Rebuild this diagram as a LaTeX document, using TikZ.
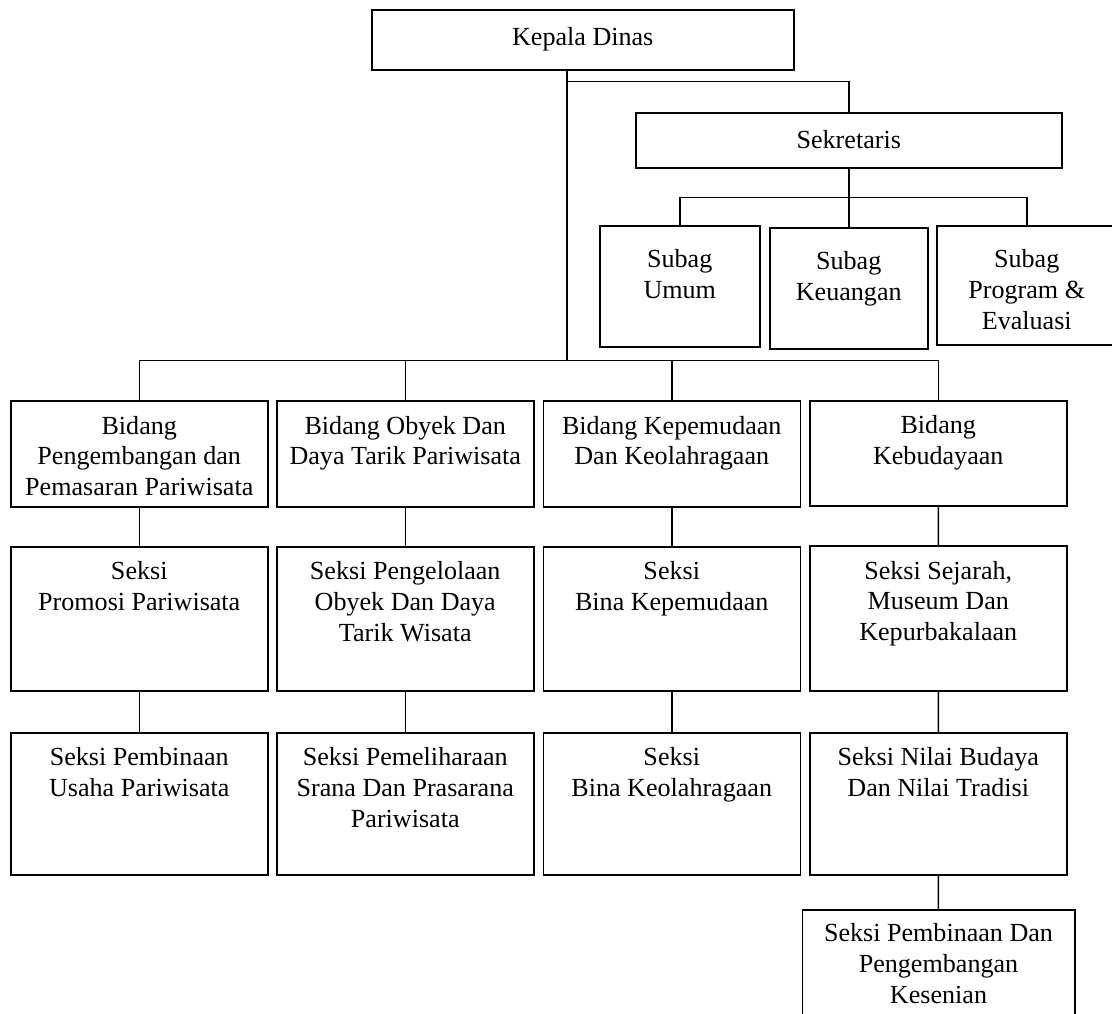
\documentclass[tikz,border=0pt]{standalone}
\usepackage{fontspec}
\setmainfont{Liberation Serif}
\newlength{\pxu}
\setlength{\pxu}{0.46pt}
\newcommand{\kotak}[4][33]{\parbox[c][#3\pxu][t]{#2\pxu}{\centering\fontsize{12}{14.1}\selectfont\rule{0pt}{#1\pxu}#4}}

\begin{document}
\begin{tikzpicture}[x=0.46pt,y=-0.46pt,
					unit/.style={draw,line width=0.7pt,inner sep=0pt,anchor=north west},
					link/.style={line width=0.7pt}]
	\useasboundingbox (0,0) rectangle (1112,1014);
	% pimpinan
	\node[unit] (kepala) at (371,9) {\kotak[36]{422}{60}{Kepala Dinas}};
	\node[unit] (sekretaris) at (635,112) {\kotak[36]{426}{55}{Sekretaris}};
	\node[unit] (umum) at (599,225) {\kotak[42]{160}{121}{Subag\\Umum}};
	\node[unit] (keuangan) at (769,227) {\kotak[42]{158}{121}{Subag\\Keuangan}};
	\node[unit] (program) at (936,225) {\kotak[42]{180}{119}{Subag\\Program \&\\Evaluasi}};
	% bidang
	\node[unit] (bidpem) at (10,400.5) {\kotak{257}{105.5}{Bidang\\Pengembangan dan\\Pemasaran Pariwisata}};
	\node[unit] (bidobyek) at (276,400.5) {\kotak{257}{105.5}{Bidang Obyek Dan\\Daya Tarik Pariwisata}};
	\node[unit] (bidmuda) at (542.5,400.5) {\kotak{257}{105.5}{Bidang Kepemudaan\\Dan Keolahragaan}};
	\node[unit] (bidbudaya) at (809,400) {\kotak{257}{105.5}{Bidang\\Kebudayaan}};
	% seksi
	\node[unit] (sekpromosi) at (10,546) {\kotak{257}{144.5}{Seksi\\Promosi Pariwisata}};
	\node[unit] (sekobyek) at (276,546) {\kotak{257}{144.5}{Seksi Pengelolaan\\Obyek Dan Daya\\Tarik Wisata}};
	\node[unit] (sekmuda) at (542.5,546) {\kotak{257}{144.5}{Seksi\\Bina Kepemudaan}};
	\node[unit] (seksejarah) at (809,545.5) {\kotak{257}{144.5}{Seksi Sejarah,\\Museum Dan\\Kepurbakalaan}};
	\node[unit] (sekusaha) at (10,732) {\kotak{257}{142}{Seksi Pembinaan\\Usaha Pariwisata}};
	\node[unit] (sekprasarana) at (276,732) {\kotak{257}{142}{Seksi Pemeliharaan\\Srana Dan Prasarana\\Pariwisata}};
	\node[unit] (sekolahraga) at (542.5,732) {\kotak{257}{142}{Seksi\\Bina Keolahragaan}};
	\node[unit] (seknilai) at (809,732) {\kotak{257}{142}{Seksi Nilai Budaya\\Dan Nilai Tradisi}};
	\node[unit] (sekseni) at (801.5,909) {\kotak[32]{272.5}{112}{Seksi Pembinaan Dan\\Pengembangan\\Kesenian}};

	\coordinate (sekbus) at (567,81.7);
	\coordinate (bus) at (567,360.7);
	\draw[link] (kepala.south -| bus) -- (bus);
	\draw[link] (sekbus) -| (sekretaris.north);
	\draw[link] (sekretaris.south) -- ++(0,29) coordinate (subbus);
	\draw[link] (umum.north) |- (subbus) -| (program.north);
	\draw[link] (keuangan.north) -- (subbus);
	\draw[link] (bidpem.north) |- (bus) -| (bidbudaya.north);
	\draw[link] (bidobyek.north) -- (bidobyek.north |- bus);
	\draw[link] (bidmuda.north) -- (bidmuda.north |- bus);
	\draw[link] (bidpem) -- (sekpromosi) (sekpromosi) -- (sekusaha);
	\draw[link] (bidobyek) -- (sekobyek) (sekobyek) -- (sekprasarana);
	\draw[link] (bidmuda) -- (sekmuda) (sekmuda) -- (sekolahraga);
	\draw[link] (bidbudaya) -- (seksejarah) (seksejarah) -- (seknilai) (seknilai) -- (sekseni);
\end{tikzpicture}
\end{document}
